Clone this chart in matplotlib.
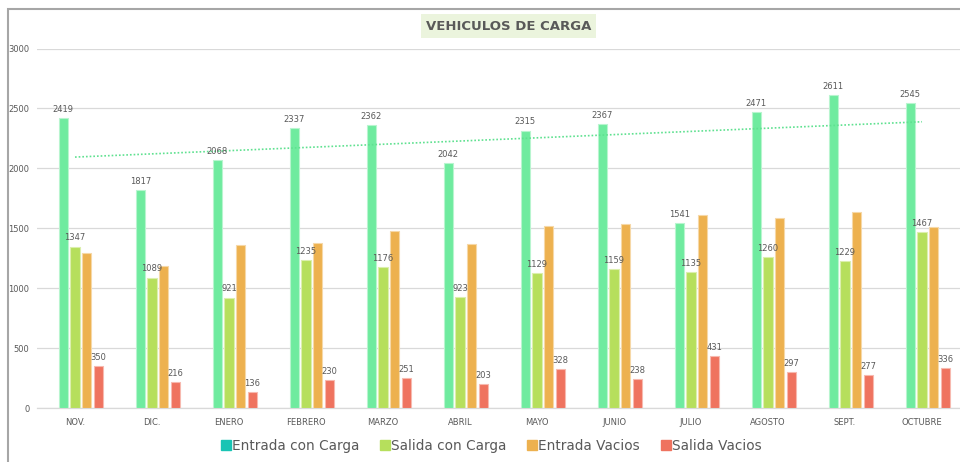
import numpy as np
import matplotlib.pyplot as plt
from matplotlib.lines import Line2D
from matplotlib.patches import Rectangle

# =====================================================================================#
# DATA
# =====================================================================================#
months = ["NOV.", "DIC.", "ENERO", "FEBRERO", "MARZO", "ABRIL",
          "MAYO", "JUNIO", "JULIO", "AGOSTO", "SEPT.", "OCTUBRE"]
entrada_carga = [2419, 1817, 2068, 2337, 2362, 2042, 2315, 2367, 1541, 2471, 2611, 2545]
salida_carga = [1347, 1089, 921, 1235, 1176, 923, 1129, 1159, 1135, 1260, 1229, 1467]
entrada_vacios = [1297, 1186, 1364, 1381, 1476, 1367, 1522, 1539, 1611, 1589, 1639, 1508]
salida_vacios = [350, 216, 136, 230, 251, 203, 328, 238, 431, 297, 277, 336]

series_names = ["Entrada con Carga", "Salida con Carga", "Entrada Vacios", "Salida Vacios"]
bar_colors = ["#6feb9f", "#b6df5c", "#edb14f", "#ef735f"]
edge_colors = ["#b8f5cf", "#dbefad", "#f6d8a7", "#f7b9af"]
legend_colors = ["#19c4b4", "#b6df5c", "#edb14f", "#ef735f"]
show_labels = [True, True, False, True]

TEXT = "#595959"
GRID = "#d9d9d9"

# =====================================================================================#
# FIGURE
# =====================================================================================#
fig = plt.figure(figsize=(9.6, 4.62), dpi=100)
ax = fig.add_axes([36.5 / 960, 1 - 408 / 462, 924 / 960, 359.5 / 462])

x = np.arange(len(months))
step = 0.152
width = 0.12
all_series = [entrada_carga, salida_carga, entrada_vacios, salida_vacios]

for i, vals in enumerate(all_series):
    pos = x + (i - 1) * step
    ax.bar(pos, vals, width=width, color=bar_colors[i],
           edgecolor=edge_colors[i], linewidth=0.8, zorder=3)
    if show_labels[i]:
        for p, v in zip(pos, vals):
            ax.annotate(str(v), (p, v), xytext=(0, 3), textcoords="offset points",
                        ha="center", va="bottom", fontsize=6, color=TEXT, zorder=5)

# linear trendline on Entrada con Carga
coef = np.polyfit(x, entrada_carga, 1)
ax.plot(x, np.polyval(coef, x), linestyle=(0, (1, 1.2)), color="#5fe190",
        linewidth=1.2, zorder=4)

ax.set_xlim(-0.5, 11.5)
ax.set_ylim(0, 3000)
ax.set_yticks(np.arange(0, 3001, 500))
ax.set_xticks(x)
ax.set_xticklabels(months)
ax.tick_params(axis="both", length=0, labelsize=6, labelcolor=TEXT)
ax.tick_params(axis="x", pad=7)
ax.tick_params(axis="y", pad=5)
ax.yaxis.grid(True, color=GRID, linewidth=0.9, zorder=0)
ax.set_axisbelow(True)
for s in ["top", "right", "left"]:
    ax.spines[s].set_visible(False)
ax.spines["bottom"].set_color(GRID)
ax.spines["bottom"].set_linewidth(0.9)

# title with tinted box
fig.text(508.5 / 960, 1 - 26 / 462, "VEHICULOS DE CARGA", ha="center", va="center",
         fontsize=9.5, fontweight="bold", color=TEXT,
         bbox=dict(boxstyle="square,pad=0.4", facecolor="#ebf4dd", edgecolor="none"))

# legend
handles = [Line2D([], [], marker="s", linestyle="none", markersize=7,
                  markerfacecolor=c, markeredgecolor=c) for c in legend_colors]
fig.legend(handles, series_names, loc="center", bbox_to_anchor=(491 / 960, 1 - 446 / 462),
           ncol=4, frameon=False, fontsize=9.8, labelcolor=TEXT,
           handletextpad=0.05, columnspacing=1.5, handlelength=0.8)

# outer chart frame (left and top visible)
fig.patches.append(Rectangle((8 / 960, -0.1), 2, 1 - 9 / 462 + 0.1,
                             transform=fig.transFigure, fill=False,
                             edgecolor="#a6a6a6", linewidth=1.5))

fig.savefig("out.png", dpi=100)
